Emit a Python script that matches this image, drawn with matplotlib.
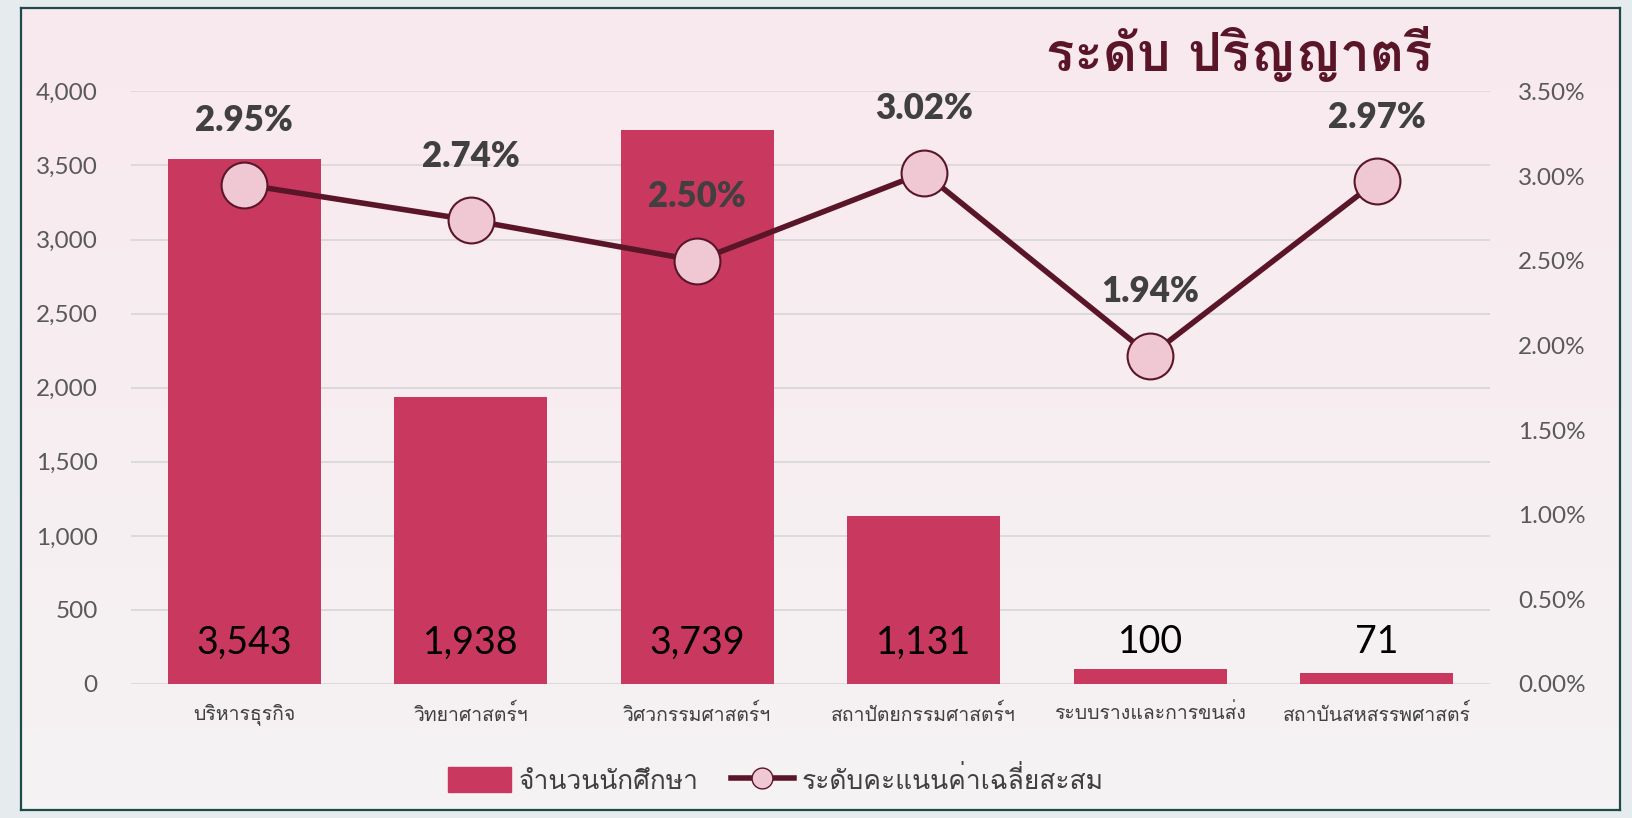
import matplotlib
matplotlib.use('Agg')
import matplotlib.pyplot as plt
import numpy as np
from matplotlib import font_manager
from matplotlib.ft2font import FT2Font
from matplotlib.lines import Line2D
from matplotlib.patches import Patch, Rectangle
from matplotlib.ticker import FuncFormatter

# data
categories = ['บริหารธุรกิจ', 'วิทยาศาสตร์ฯ', 'วิศวกรรมศาสตร์ฯ', 'สถาปัตยกรรมศาสตร์ฯ',
              'ระบบรางและการขนส่ง', 'สถาบันสหสรรพศาสตร์']
students = [3543, 1938, 3739, 1131, 100, 71]
gpa_pct = [2.95, 2.74, 2.50, 3.02, 1.94, 2.97]
left_ticks = [0, 500, 1000, 1500, 2000, 2500, 3000, 3500, 4000]
right_ticks = [0.0, 0.5, 1.0, 1.5, 2.0, 2.5, 3.0, 3.5]
title = 'ระดับ ปริญญาตรี'
legend_labels = ['จำนวนนักศึกษา', 'ระดับคะแนนค่าเฉลี่ยสะสม']


def thai_families():
    found = []
    for f in font_manager.fontManager.ttflist:
        try:
            cmap = FT2Font(f.fname).get_charmap()
        except Exception:
            continue
        if 0x0E01 in cmap and f.name not in found:
            found.append(f.name)
    return found


thai = thai_families()
plt.rcParams['font.family'] = thai[:1] + ['DejaVu Sans']
NUM = ['Lato', 'DejaVu Sans']

BAR = '#C9395F'
LINE = '#5A1628'
MARK = '#F0C8D4'
TXT = '#404040'
TICK = '#595959'

fig = plt.figure(figsize=(16.33, 8.18), dpi=100)

# outer background
bg = fig.add_axes([0, 0, 1, 1])
bg.set_axis_off()
bg.add_patch(Rectangle((0, 0), 1, 1, color='#E6EBEE', transform=bg.transAxes))

# panel with vertical gradient
px0, py0, pw, ph = 21 / 1633, 8 / 818, 1599 / 1633, 802 / 818
panel = fig.add_axes([px0, py0, pw, ph])
grad = np.linspace(0, 1, 256).reshape(-1, 1)
top = np.array([249, 233, 239]) / 255
bot = np.array([245, 243, 244]) / 255
img = top * (1 - grad[..., None]) + bot * grad[..., None]
panel.imshow(img, aspect='auto', extent=[0, 1, 0, 1])
panel.set_xlim(0, 1)
panel.set_ylim(0, 1)
panel.set_xticks([])
panel.set_yticks([])
for s in panel.spines.values():
    s.set_color('#1E4A4A')
    s.set_linewidth(1.6)

ax = fig.add_axes([131 / 1633, 134 / 818, 1359 / 1633, 592.6 / 818])
ax.set_facecolor('none')
x = np.arange(len(categories))
ax.bar(x, students, width=0.675, color=BAR, zorder=2)
ax.set_xlim(-0.5, len(categories) - 0.5)
ax.set_ylim(0, 4000)
ax.set_yticks(left_ticks)
ax.yaxis.set_major_formatter(FuncFormatter(lambda v, p: f'{int(v):,}'))
ax.grid(axis='y', color='#D9D9D9', linewidth=1.3, zorder=0)
ax.set_axisbelow(True)
for s in ax.spines.values():
    s.set_visible(False)
ax.tick_params(axis='y', length=0, labelsize=17.5, labelcolor=TICK, pad=24)
ax.tick_params(axis='x', length=0, labelsize=14, labelcolor=TXT, pad=14)
ax.set_xticks(x)
ax.set_xticklabels(categories)
for t in ax.get_yticklabels():
    t.set_family(NUM)

for xi, v in zip(x, students):
    ax.annotate(f'{v:,}', (xi, 0), xytext=(0, 30), textcoords='offset points',
                ha='center', va='center', fontsize=27, color='black', zorder=3,
                family=NUM)

ax2 = ax.twinx()
ax2.set_ylim(0, 3.5)
ax2.set_yticks(right_ticks)
ax2.yaxis.set_major_formatter(FuncFormatter(lambda v, p: f'{v:.2f}%'))
for s in ax2.spines.values():
    s.set_visible(False)
ax2.tick_params(axis='y', length=0, labelsize=17.5, labelcolor=TICK, pad=20)
for t in ax2.get_yticklabels():
    t.set_family(NUM)
ax2.plot(x, gpa_pct, color=LINE, linewidth=4, marker='o', markersize=33,
         markerfacecolor=MARK, markeredgecolor=LINE, markeredgewidth=1.5, zorder=4)
for xi, v in zip(x, gpa_pct):
    ax2.annotate(f'{v:.2f}%', (xi, v), xytext=(0, 46), textcoords='offset points',
                 ha='center', va='center', fontsize=25, fontweight='heavy', color=TXT,
                 family=NUM)

fig.text(1375 * 1.0415 / 1633, 1 - 52 * 1.0415 / 818, title, ha='right', va='center',
         fontsize=38, fontweight='bold', color=LINE)

handles = [Patch(color=BAR),
           Line2D([0], [0], color=LINE, linewidth=4, marker='o', markersize=15,
                  markerfacecolor=MARK, markeredgecolor=LINE)]
fig.legend(handles, legend_labels, loc='center', bbox_to_anchor=(0.475, 0.047),
           ncol=2, frameon=False, fontsize=19, labelcolor=TXT, handlelength=2.4,
           handleheight=1.1, handletextpad=0.3, columnspacing=1.2)

fig.savefig('out.png', dpi=100)
